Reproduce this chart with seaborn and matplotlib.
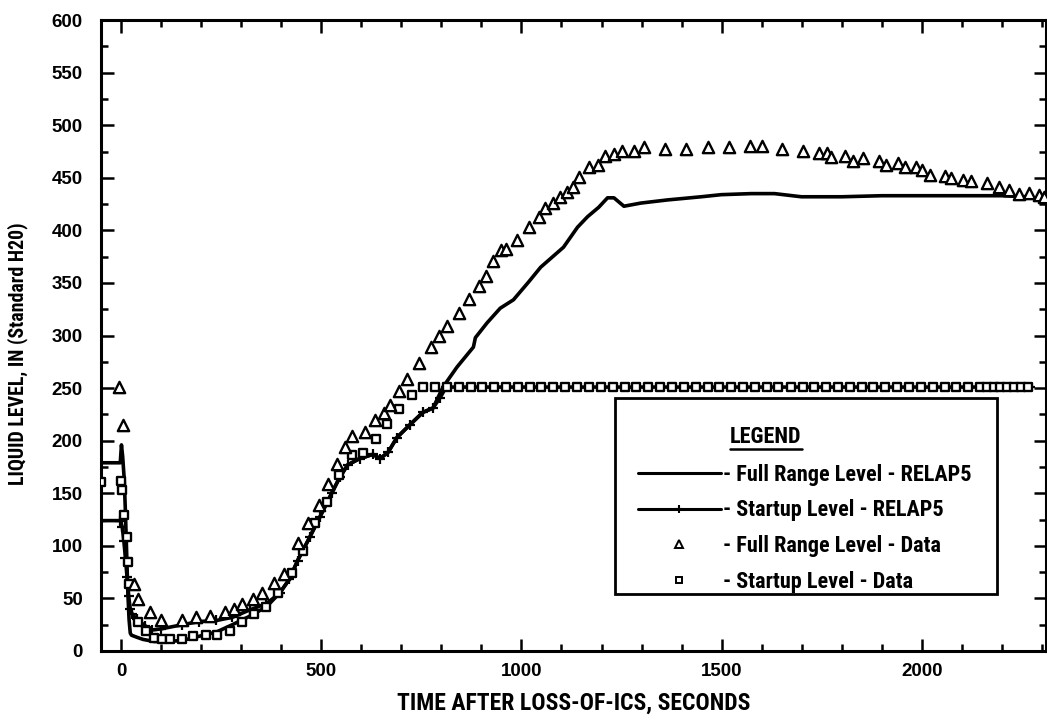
import matplotlib
matplotlib.use("Agg")
import matplotlib.pyplot as plt
from matplotlib.lines import Line2D
from matplotlib.patches import Rectangle
from matplotlib.ticker import MultipleLocator
import seaborn as sns

# RELAP5 full range level (solid line)
fr_model_t = [-50, -2, 1, 4, 8, 11, 14, 17, 20, 23, 26, 40, 55, 83, 113, 153, 195, 238, 278,
              321, 363, 396, 420, 441, 471, 496, 526, 546, 566, 596, 629, 647, 667, 689, 721,
              754, 779, 804, 839, 867, 880, 885, 914, 947, 980, 1018, 1048, 1105, 1140, 1165,
              1193, 1215, 1231, 1256, 1298, 1365, 1449, 1499, 1574, 1632, 1699, 1749, 1800,
              1900, 2000, 2100, 2200, 2260, 2310]
fr_model_lvl = [179, 179, 196, 185, 163, 131, 93, 55, 30, 17, 15, 13, 11, 9, 9, 10, 14, 18, 25,
                33, 42, 55, 68, 86, 108, 127, 150, 165, 177, 183, 187, 183, 189, 203, 215,
                227, 231, 251, 270, 283, 289, 298, 312, 326, 334, 351, 365, 384, 403, 413,
                422, 431, 431, 423, 426, 429, 432, 434, 435, 435, 432, 432, 432,
                433, 433, 433, 433, 432, 429]

# RELAP5 startup level (line with + marks)
su_model_t = [-50, -2, 3, 7, 11, 15, 19, 23, 28, 40, 60, 78, 100, 153, 195, 238, 278, 321, 363,
              396, 420, 441, 471, 496, 526, 546, 566, 596, 629, 647, 667, 689, 721, 754, 779,
              797, 812, 850, 2270]
su_model_lvl = [124, 124, 118, 105, 88, 70, 52, 40, 35, 30, 24, 20, 21, 25, 28, 29, 32, 39, 45,
                55, 68, 86, 108, 127, 150, 165, 177, 183, 187, 183, 189, 203, 215, 227, 231,
                241, 251, 251, 251]

# measured full range level (triangles)
fr_data_t = [-5, 5, 33, 43, 72, 100, 153, 187, 222, 260, 283, 303, 329, 353, 383, 408, 443, 468,
             494, 516, 539, 559, 576, 609, 634, 657, 672, 694, 714, 744, 774, 794, 813, 843,
             868, 893, 912, 930, 950, 962, 990, 1018, 1043, 1060, 1078, 1096, 1115, 1130,
             1143, 1168, 1190, 1208, 1231, 1250, 1281, 1306, 1358, 1411, 1466, 1519, 1572,
             1601, 1651, 1704, 1744, 1762, 1772, 1807, 1829, 1852, 1892, 1910, 1940, 1957,
             1985, 2000, 2020, 2058, 2073, 2103, 2123, 2163, 2193, 2218, 2243, 2268, 2293, 2305]
fr_data_lvl = [251, 215, 64, 49, 37, 29, 29, 32, 33, 37, 40, 45, 49, 55, 65, 73, 103, 122,
               139, 159, 178, 194, 204, 208, 220, 226, 234, 247, 259, 274, 289, 300, 309, 321,
               335, 347, 357, 371, 381, 382, 391, 403, 413, 421, 426, 432, 437, 441,
               451, 460, 462, 471, 473, 476, 476, 479, 477, 477, 479, 479, 480,
               480, 477, 476, 474, 474, 470, 471, 466, 469, 466, 462, 464, 460,
               460, 457, 453, 452, 450, 448, 447, 445, 441, 438, 435, 436, 434, 432]

# measured startup level (squares)
su_data_t = [-50, 0, 3, 7, 15, 18, 20, 43, 62, 83, 102, 122, 152, 180, 212, 240, 272, 302, 333,
             363, 393, 426, 454, 484, 514, 544, 576, 604, 637, 664, 694, 727, 754, 784, 814,
             843, 873, 902, 932, 962, 991, 1021, 1050, 1080, 1110, 1139, 1169, 1198, 1228,
             1258, 1287, 1317, 1346, 1376, 1406, 1435, 1465, 1494, 1524, 1554, 1583, 1613,
             1642, 1672, 1702, 1731, 1761, 1790, 1820, 1850, 1879, 1909, 1938, 1968, 1998,
             2027, 2057, 2086, 2116, 2145, 2162, 2179, 2196, 2213, 2230, 2247, 2264]
su_data_lvl = [161, 162, 153, 129, 108, 85, 64, 28, 19, 12, 11, 11, 11, 14, 15, 15, 19, 28, 35,
               42, 55, 74, 95, 122, 142, 167, 186, 188, 202, 216, 230, 243, 251, 251, 251,
               251, 251, 251, 251, 251, 251, 251, 251, 251, 251, 251, 251, 251, 251,
               251, 251, 251, 251, 251, 251, 251, 251, 251, 251, 251, 251, 251,
               251, 251, 251, 251, 251, 251, 251, 251, 251, 251, 251, 251, 251,
               251, 251, 251, 251, 251, 251, 251, 251, 251, 251, 251, 251]

legend_labels = ["- Full Range Level - RELAP5",
                 "- Startup Level - RELAP5",
                 "- Full Range Level - Data",
                 "- Startup Level - Data"]

sns.set_style("ticks")
fonts = ["Roboto Condensed", "Liberation Sans Narrow", "Liberation Sans", "DejaVu Sans"]
tick_fonts = ["Liberation Sans", "DejaVu Sans"]
plt.rcParams["font.family"] = fonts
plt.rcParams["font.weight"] = "bold"
for key in ["text.color", "axes.labelcolor", "xtick.color", "ytick.color", "axes.edgecolor"]:
    plt.rcParams[key] = "black"

fig = plt.figure(figsize=(10.47, 7.19), dpi=100)
ax = fig.add_axes([0.0965, 0.0946, 0.9025, 0.8774])

sns.lineplot(x=fr_model_t, y=fr_model_lvl, sort=False, estimator=None, color="black",
             lw=2.6, ax=ax)
sns.lineplot(x=su_model_t, y=su_model_lvl, sort=False, estimator=None, color="black",
             lw=2.6, marker="+", markersize=7, markeredgewidth=1.6,
             markeredgecolor="black", ax=ax)
sns.scatterplot(x=su_data_t, y=su_data_lvl, marker="s", s=40, facecolor="white",
                edgecolor="black", linewidth=1.7, zorder=4, ax=ax)
sns.scatterplot(x=fr_data_t, y=fr_data_lvl, marker="^", s=66, facecolor="white",
                edgecolor="black", linewidth=1.7, zorder=4, ax=ax)

ax.set_xlim(-50, 2310)
ax.set_ylim(0, 600)
ax.xaxis.set_major_locator(MultipleLocator(500))
ax.xaxis.set_minor_locator(MultipleLocator(100))
ax.yaxis.set_major_locator(MultipleLocator(50))
ax.yaxis.set_minor_locator(MultipleLocator(25))
ax.tick_params(which="both", direction="in", top=True, right=True, width=1.8, color="black")
ax.tick_params(which="major", length=9)
ax.tick_params(which="minor", length=5)
ax.tick_params(axis="y", which="major", pad=13)
ax.tick_params(axis="x", which="major", pad=9)
for lab in ax.get_xticklabels() + ax.get_yticklabels():
    lab.set_fontfamily(tick_fonts)
    lab.set_fontweight("bold")
    lab.set_fontsize(13.5)
for sp in ax.spines.values():
    sp.set_linewidth(2.2)

ax.set_xlabel("TIME AFTER LOSS-OF-ICS, SECONDS", fontsize=17, fontweight="bold", labelpad=8)
ax.set_ylabel("LIQUID LEVEL, IN (Standard H20)", fontsize=14.3, fontweight="bold")
ax.yaxis.set_label_coords(-0.077, 0.472)

# legend box drawn as a plain frame, entries placed inside it
ax.add_patch(Rectangle((0.544, 0.0903), 0.404, 0.3106, transform=ax.transAxes,
                       facecolor="white", edgecolor="black", lw=2.0, zorder=5))
heading = ax.text(0.7037, 0.339, "LEGEND", transform=ax.transAxes, ha="center", va="center",
                  fontsize=16, fontweight="bold", zorder=7)

handles = [Line2D([], [], color="black", lw=2.2),
           Line2D([], [], color="black", lw=2.2, marker="+", markersize=6, markeredgewidth=1.5),
           Line2D([], [], ls="none", marker="^", markersize=6, markerfacecolor="white",
                  markeredgecolor="black", markeredgewidth=1.4),
           Line2D([], [], ls="none", marker="s", markersize=4.5, markerfacecolor="white",
                  markeredgecolor="black", markeredgewidth=1.4)]
leg = ax.legend(handles=handles, labels=legend_labels, loc="upper left",
                bbox_to_anchor=(0.568, 0.297), borderaxespad=0, borderpad=0,
                frameon=False, handlelength=3.75, handletextpad=0.1, labelspacing=0.62,
                prop={"family": fonts, "weight": "bold", "size": 16})
leg.set_zorder(7)

# underline the LEGEND heading
fig.canvas.draw()
bb = heading.get_window_extent(fig.canvas.get_renderer())
inv = fig.transFigure.inverted()
(x0, y0), (x1, _) = inv.transform([(bb.x0, bb.y0 - 1), (bb.x1, bb.y0 - 1)])
fig.add_artist(Line2D([x0, x1], [y0, y0], color="black", lw=1.8, transform=fig.transFigure,
                      zorder=8))

fig.savefig("out.png", dpi=100)
